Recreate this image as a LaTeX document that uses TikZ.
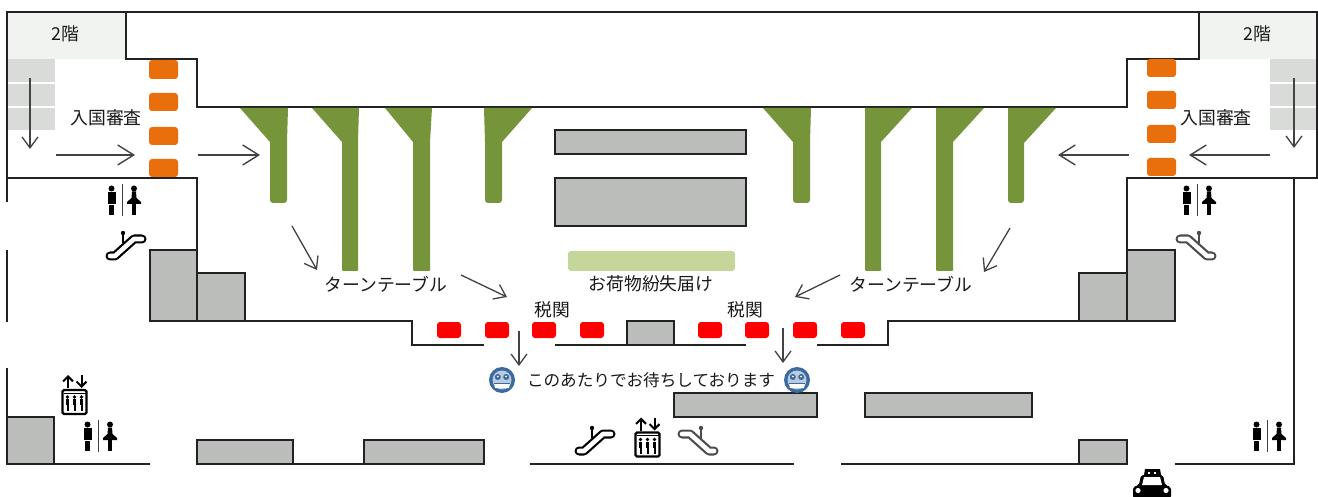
\documentclass[tikz,border=0pt]{standalone}
\usepackage{fontspec}
\setmainfont{Noto Sans CJK JP}
\usetikzlibrary{arrows.meta}
\definecolor{wallgrey}{HTML}{BBBDBA}
\definecolor{topgrey}{HTML}{F1F3F1}
\definecolor{stepgrey}{HTML}{D9DBD8}
\definecolor{belt}{HTML}{76943A}
\definecolor{paleg}{HTML}{C5D69B}
\definecolor{immig}{HTML}{E86F0C}
\definecolor{facebl}{HTML}{3B6A9E}
\definecolor{wallk}{HTML}{222222}
\tikzset{
 x=1pt,y=-1pt,
 wall/.style={draw=wallk,line width=1.7pt,line join=miter},
 block/.style={wall,fill=wallgrey},
 desk/.style={fill=immig,rounded corners=3pt},
 customs/.style={fill=red,rounded corners=3pt},
 beltshape/.style={fill=belt},
 flow/.style={draw=wallk!85,line width=1.3pt,-{Straight Barb[length=11pt,width=16pt,line width=1.3pt]}},
 bigflow/.style={draw=wallk!85,line width=1.4pt,-{Straight Barb[length=16pt,width=20pt,line width=1.4pt]}},
 label/.style={font=\fontsize{17.8}{18}\selectfont,inner sep=0pt,text=black!90},
 pics/wc/.style={code={
   \fill (-10.5,-12.5) circle (3);
   \fill (-14.5,-9) rectangle (-6,3);
   \fill (-13.5,4) rectangle (-8,14);
   \fill (12,-12.5) circle (3);
   \fill (10,-9.5) -- (14,-9.5) -- (14.5,-3) -- (19,1) -- (19,3) -- (5,3) -- (5,1) -- (9.5,-3) -- cycle;
   \fill (10.3,3) rectangle (13.7,14);
   \draw[line width=1pt,black!75] (0,-17) -- (0,15);
 }},
 pics/esc/.style={code={
   \draw[#1,line width=9pt,line cap=round,line join=round] (-15,9) -- (-10,9) -- (9,-8) -- (17,-8);
   \draw[white,line width=4.6pt,line cap=round,line join=round] (-15,9) -- (-10,9) -- (9,-8) -- (17,-8);
   \fill[#1] (-2,-14) circle (2.2);
   \draw[#1,line width=2.6pt] (-2,-12) -- (-2,-4);
 }},
 pics/lift/.style={code={
   \draw[black,line width=2.3pt,rounded corners=1.5pt] (-12,-12) rectangle (12,12);
   \draw[black,line width=1pt] (-11,-9) -- (11,-9);
   \foreach \dx in {-7,0,7}{
     \fill (\dx,-5) circle (1.8);
     \fill (\dx-1.8,-3) rectangle (\dx+1.8,3);
     \fill (\dx-1,3) rectangle (\dx+1,9);
   }
   \draw[black,line width=2pt,-{Straight Barb[length=5pt,width=10pt,line width=2pt]}] (-6.5,-14) -- (-6.5,-27);
   \draw[black,line width=2pt,-{Straight Barb[length=5pt,width=10pt,line width=2pt]}] (7,-27) -- (7,-14);
 }},
 pics/smiley/.style={code={
   \fill[facebl] (0,0) circle (13);
   \fill[facebl!35] (0,0) circle (9.5);
   \fill[facebl] (-4.2,-3) circle (3);
   \fill[facebl] (4.2,-3) circle (3);
   \fill[white] (-4.2,-3.5) circle (1);
   \fill[white] (4.2,-3.5) circle (1);
   \fill[white] (-8,3) -- (8,3) -- (7,8) -- (-7,8) -- cycle;
   \draw[facebl,line width=1pt] (-8,3) -- (8,3);
 }},
 pics/taxi/.style={code={
   \fill[black,rounded corners=2pt] (-19,3) -- (-13,1) -- (-11,-9) -- (11,-9) -- (13,1) -- (19,3) -- (19,14) -- (-19,14) -- cycle;
   \fill[white] (-8,-7) -- (8,-7) -- (10,1) -- (-10,1) -- cycle;
   \fill[black] (-7,-15) -- (8,-15) -- (9,-9) -- (-8,-9) -- cycle;
   \fill[white] (-4,-12) rectangle (-2,-10);
   \fill[white] (2,-12) rectangle (4,-10);
   \fill[white] (-14,6.5) circle (2.6);
   \fill[white] (14,6.5) circle (2.6);
 }},
}
\begin{document}
\begin{tikzpicture}
\useasboundingbox (0,0) rectangle (1318,497);
\fill[white] (0,0) rectangle (1318,497);
% upper floor tint and steps
\fill[topgrey] (7,12) rectangle (126,59);
\fill[topgrey] (1199,12) rectangle (1317,59);
\foreach \a/\b in {59/82,84/106,108/130}{
  \fill[stepgrey] (7,\a) rectangle (55,\b);
  \fill[stepgrey] (1270,\a) rectangle (1317,\b);
}
% walls
\draw[wall] (7,202) -- (7,12) -- (1317,12) -- (1317,178) -- (1127,178) -- (1127,250);
\draw[wall] (126,12) -- (126,59) -- (197,59) -- (197,107) -- (1127,107) -- (1127,59) -- (1199,59) -- (1199,12);
\draw[wall] (7,178) -- (197,178) -- (197,321);
\draw[wall] (1294,178) -- (1294,464) -- (1175,464);
\draw[wall] (7,250) -- (7,322);
\draw[wall] (7,368) -- (7,464) -- (150,464);
\draw[wall] (149,321) -- (412,321) -- (412,345) -- (484,345);
\draw[wall] (555,345) -- (746,345);
\draw[wall] (817,345) -- (888,345) -- (888,321) -- (1175,321);
\draw[wall] (197,464) -- (484,464);
\draw[wall] (530,464) -- (794,464);
\draw[wall] (841,464) -- (1127,464);
% grey blocks
\draw[block] (150,250) rectangle (197,321);
\draw[block] (197,273) rectangle (245,321);
\draw[block] (1079,273) rectangle (1127,321);
\draw[block] (1127,250) rectangle (1175,321);
\draw[block] (627,321) rectangle (674,345);
\draw[block] (7,417) rectangle (54,464);
\draw[block] (197,440) rectangle (293,464);
\draw[block] (364,440) rectangle (484,464);
\draw[block] (1079,440) rectangle (1127,464);
\draw[block] (674,393) rectangle (817,417);
\draw[block] (865,393) rectangle (1032,417);
\draw[block] (555,130) rectangle (746,154);
\draw[block] (555,178) rectangle (746,226);
\fill[paleg,rounded corners=3pt] (568,251) rectangle (735,271);
% baggage carousels
\fill[beltshape] (240,108) -- (270,142) [rounded corners=3pt] -- (270,203) -- (287,203) [sharp corners] -- (287,142) -- (288,108) -- cycle;
\fill[beltshape] (312,108) -- (342,142) [rounded corners=1pt] -- (342,271) -- (358,271) [sharp corners] -- (358,142) -- (359,108) -- cycle;
\fill[beltshape] (385,108) -- (413,142) [rounded corners=1pt] -- (413,271) -- (430,271) [sharp corners] -- (430,142) -- (432,108) -- cycle;
\fill[beltshape] (484,108) -- (485,142) [rounded corners=3pt] -- (485,203) -- (502,203) [sharp corners] -- (502,142) -- (532,108) -- cycle;
\fill[beltshape] (763,108) -- (793,142) [rounded corners=3pt] -- (793,203) -- (810,203) [sharp corners] -- (810,142) -- (811,108) -- cycle;
\fill[beltshape] (865,108) -- (865,142) [rounded corners=1pt] -- (865,271) -- (881,271) [sharp corners] -- (881,142) -- (912,108) -- cycle;
\fill[beltshape] (936,108) -- (936,142) [rounded corners=1pt] -- (936,271) -- (953,271) [sharp corners] -- (953,142) -- (984,108) -- cycle;
\fill[beltshape] (1008,108) -- (1008,142) [rounded corners=3pt] -- (1008,203) -- (1024,203) [sharp corners] -- (1024,143) -- (1056,108) -- cycle;
% immigration desks
\foreach \a/\b in {60/79,93/111,127/145,159/177}{\fill[desk] (149,\a) rectangle (178,\b);}
\foreach \a/\b in {59/77,91/109,125/143,158/176}{\fill[desk] (1147,\a) rectangle (1176,\b);}
% customs
\foreach \a in {437,485,532,580,698,745,793,841}{\fill[customs] (\a,322) rectangle ++(24,16);}
% flow arrows
\coordinate (a1s) at (56,155); \coordinate (a1e) at (135,155);
\coordinate (a2s) at (198,155); \coordinate (a2e) at (260,155);
\coordinate (a3s) at (30,78); \coordinate (a3e) at (30,149);
\coordinate (a4s) at (292,226); \coordinate (a4e) at (317,270);
\coordinate (a5s) at (461,275); \coordinate (a5e) at (507,297);
\coordinate (a6s) at (519,331); \coordinate (a6e) at (519,366);
\coordinate (a7s) at (783,328); \coordinate (a7e) at (783,363);
\coordinate (a8s) at (840,275); \coordinate (a8e) at (795,297);
\coordinate (a9s) at (1010,228); \coordinate (a9e) at (984,272);
\coordinate (a10s) at (1129,155); \coordinate (a10e) at (1058,155);
\coordinate (a11s) at (1270,155); \coordinate (a11e) at (1189,155);
\coordinate (a12s) at (1294,78); \coordinate (a12e) at (1294,148);
\foreach \i in {3,4,5,6,7,8,9,12}{\draw[flow] (a\i s) -- (a\i e);}
\foreach \i in {1,2,10,11}{\draw[bigflow] (a\i s) -- (a\i e);}
% text
\node[label] (f2l) at (65,34) {2階};
\node[label] (f2r) at (1257,34) {2階};
\node[label] (iml) at (106,118) {入国審査};
\node[label] (imr) at (1216,118) {入国審査};
\node[label] (ttl) at (386,284) {ターンテーブル};
\node[label] (ttr) at (911,284) {ターンテーブル};
\node[label] (lost) at (651,284) {お荷物紛失届け};
\node[label] (czl) at (552,310) {税関};
\node[label] (czr) at (745,310) {税関};
\node[label,font=\fontsize{16.6}{17}\selectfont] (wait) at (651,380) {このあたりでお待ちしております};
% icons
\pic at (122,201) {wc};
\pic at (1197,201) {wc};
\pic at (98,437) {wc};
\pic at (1267,437) {wc};
\pic at (125,247) {esc={black}};
\pic at (594,442) {esc={black}};
\pic[xscale=-1] at (1197,247) {esc={black!70}};
\pic[xscale=-1] at (699,442) {esc={black!70}};
\pic at (74.5,402) {lift};
\pic at (647.5,444.5) {lift};
\pic at (502,380) {smiley};
\pic at (797,380) {smiley};
\pic at (1152,484) {taxi};
\end{tikzpicture}
\end{document}
